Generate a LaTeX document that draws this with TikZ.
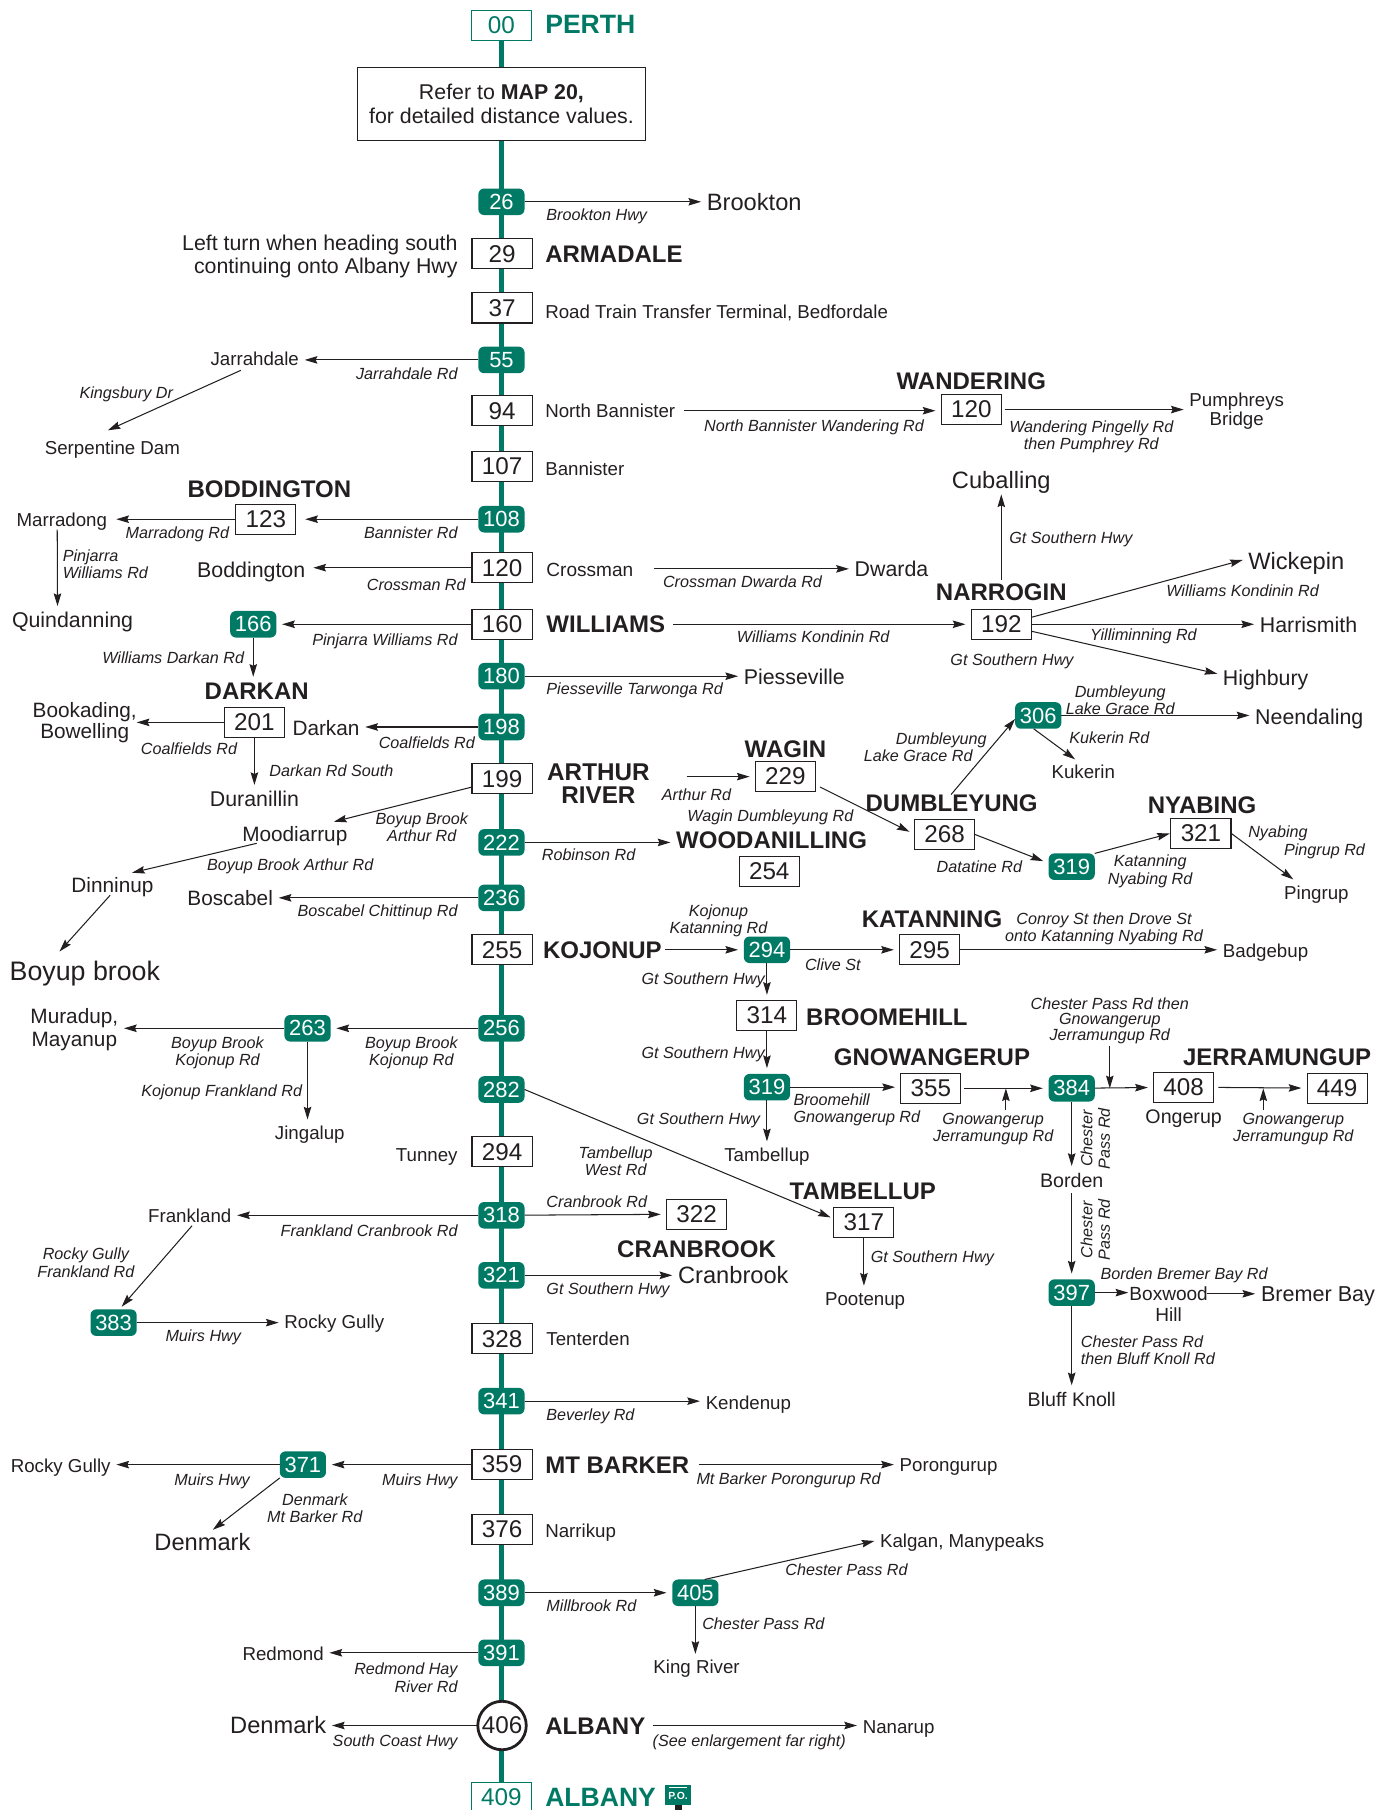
\documentclass[tikz,border=0pt]{standalone}
\usepackage{fontspec}
\setmainfont{Liberation Sans}
\usetikzlibrary{arrows.meta,backgrounds,calc}
\definecolor{rgreen}{HTML}{007A65}
\definecolor{ink}{HTML}{231F20}
\newcommand\fz[1]{\fontsize{#1}{#1}\selectfont}
\tikzset{
 x=1pt,y=-1pt,
 every node/.style={text=ink,inner sep=0pt,outer sep=0pt},
 arr/.style={draw=ink,line width=.9pt,-{Stealth[length=11pt,width=6.5pt,inset=1.5pt]},shorten >=5pt},
 kmbox/.style={draw=ink,fill=white,line width=.9pt,minimum width=52pt,minimum height=26pt,font=\fz{21}},
 gbox/.style={kmbox,draw=rgreen,text=rgreen},
 pill/.style={fill=rgreen,rounded corners=5pt,minimum width=40pt,minimum height=23pt,text=white,font=\fz{19}},
 town/.style={font=\fz{20.8}\bfseries,text height=15pt,text depth=0pt},
 gtown/.style={town,text=rgreen,font=\fz{23}\bfseries},
 pl/.style={font=\fz{16.2},text height=12pt,text depth=0pt},
 plm/.style={font=\fz{18.5},text height=13.5pt,text depth=0pt},
 plb/.style={font=\fz{20.5},text height=15pt,text depth=0pt},
 road/.style={font=\fz{14}\itshape,text height=10pt,text depth=0pt},
 rl/.style={font=\fontsize{14}{15}\selectfont\itshape,align=center,yshift=-1.5pt},
 rr/.style={rl,align=right},
 rg/.style={rl,align=left},
 ml/.style={font=\fontsize{18.5}{20.5}\selectfont,align=center,yshift=-1.5pt},
}
\begin{document}
\begin{tikzpicture}
\clip (0,0) rectangle (1203,1568);
\useasboundingbox (0,0) rectangle (1203,1568);
\begin{scope}[xshift=.4pt,yshift=.2pt]
% spine nodes
\node[gbox] (k00) at (434,22) {00};
\node[gtown,anchor=west] (perth) at (472,22) {PERTH};
\node[draw=ink,fill=white,line width=.9pt,minimum width=250pt,minimum height=63pt,font=\fontsize{18.5}{21}\selectfont,align=center] (refbox) at (434,90) {Refer to \textbf{MAP 20,}\\for detailed distance values.};
\node[pill] (k26) at (434,175) {26};
\node[kmbox] (k29) at (434.5,220) {29};
\node[kmbox] (k37) at (434.5,267) {37};
\node[pill] (k55) at (434,312) {55};
\node[kmbox] (k94) at (434.5,356) {94};
\node[kmbox] (k107) at (434.5,404) {107};
\node[pill] (k108) at (434,450) {108};
\node[kmbox] (k120) at (434.5,492) {120};
\node[kmbox] (k160) at (434.5,541) {160};
\node[pill] (k180) at (434,586) {180};
\node[pill] (k198) at (434,630) {198};
\node[kmbox] (k199) at (434.5,675) {199};
\node[pill] (k222) at (434,730) {222};
\node[pill] (k236) at (434,778) {236};
\node[kmbox] (k255) at (434.5,823) {255};
\node[pill] (k256) at (434,891) {256};
\node[pill] (k282) at (434,944) {282};
\node[kmbox] (k294) at (434.5,998) {294};
\node[pill] (k318) at (434,1053) {318};
\node[pill] (k321) at (434,1105) {321};
\node[kmbox] (k328) at (434.5,1160) {328};
\node[pill] (k341) at (434,1214) {341};
\node[kmbox] (k359) at (434.5,1269) {359};
\node[kmbox] (k376) at (434.5,1325) {376};
\node[pill] (k389) at (434,1380) {389};
\node[pill] (k391) at (434,1432) {391};
\node[circle,draw=ink,fill=white,line width=2.4pt,minimum size=42pt,font=\fz{21}] (k406) at (434.5,1495) {406};
\node[gbox] (k409) at (434,1557) {409};
\node[gtown,anchor=west] (alb2) at (472,1558) {ALBANY};
\begin{scope}[on background layer]
\draw[rgreen,line width=5pt] (k00.south) -- (k409.north);
\end{scope}
% P.O. sign
\fill[ink] (584,1562) rectangle (590,1568);
\node[fill=rgreen,minimum width=22pt,minimum height=17pt,text=white,font=\fz{9}\bfseries,text depth=0pt,anchor=center] (po) at (587,1555) {\raisebox{-2pt}{P.O.}};
\draw[white,line width=.9pt] ($(po.north west)+(3,2.5)$) -- ($(po.north east)+(-3,2.5)$);
% right of spine texts
\node[plb,anchor=west] (brookton) at (612,175) {Brookton};
\node[road,anchor=west] at (473,186) {Brookton Hwy};
\node[town,anchor=west] (armadale) at (472,220) {ARMADALE};
\node[ml,align=right,anchor=east] at (396,221) {Left turn when heading south\\continuing onto Albany Hwy};
\node[pl,anchor=west] at (472,270) {Road Train Transfer Terminal, Bedfordale};
\node[pl,anchor=west] (jarrahdale) at (182,311) {Jarrahdale};
\node[road,anchor=east] at (396,324) {Jarrahdale Rd};
\node[road] at (109,340) {Kingsbury Dr};
\node[pl] (serp) at (97,388) {Serpentine Dam};
\node[pl,anchor=west] (nban) at (472,356) {North Bannister};
\node[road,anchor=east] at (800,369) {North Bannister Wandering Rd};
\node[town] at (841,330) {WANDERING};
\node[kmbox] (k120w) at (841,355) {120};
\node[rl] at (945,377) {Wandering Pingelly Rd\\then Pumphrey Rd};
\node[font=\fontsize{16.2}{16.5}\selectfont,align=center] (pump) at (1071,356) {Pumphreys\\Bridge};
\node[pl,anchor=west] at (472,406) {Bannister};
\node[town] at (233,424) {BODDINGTON};
\node[kmbox] (k123) at (230,450) {123};
\node[road,anchor=east] at (396,462) {Bannister Rd};
\node[pl,anchor=west] (marr) at (14,450) {Marradong};
\node[road,anchor=east] at (198,462) {Marradong Rd};
\node[rg,anchor=west] at (54,487.5) {Pinjarra\\Williams Rd};
\node[plm,anchor=west] (quin) at (10,537) {Quindanning};
\node[plm,font=\fz{16.5},anchor=west] (cross) at (473,493) {Crossman};
\node[plm,anchor=east] (bodd) at (264,494) {Boddington};
\node[road,anchor=east] at (403,507) {Crossman Rd};
\node[plm,anchor=west] (dwarda) at (740,493) {Dwarda};
\node[road,anchor=west] at (574,504) {Crossman Dwarda Rd};
\node[town,anchor=west] (williams) at (473,541) {WILLIAMS};
\node[pill] (p166) at (219,541) {166};
\node[road,anchor=east] at (396,554) {Pinjarra Williams Rd};
\node[road,anchor=west] at (638,552) {Williams Kondinin Rd};
\node[road,anchor=east] at (211,570) {Williams Darkan Rd};
\node[town] (darkanT) at (222,599) {DARKAN};
\node[plm,anchor=west] (piess) at (644,586) {Piesseville};
\node[road,anchor=west] at (473,597) {Piesseville Tarwonga Rd};
\node[plm,font=\fz{18},anchor=west] (darkan) at (253,631) {Darkan};
\node[road,anchor=east] at (411,644) {Coalfields Rd};
\node[kmbox] (k201) at (220,626) {201};
\node[font=\fontsize{18}{16}\selectfont,align=center] (book) at (73,626) {Bookading,\\Bowelling};
\node[road,anchor=east] at (205,649) {Coalfields Rd};
\node[road,anchor=west] at (233,668) {Darkan Rd South};
\node[plm] (duran) at (220,692) {Duranillin};
% Arthur River etc
\node[font=\fontsize{21}{20}\selectfont\bfseries,align=center] (arthur) at (518,679) {ARTHUR\\RIVER};
\node[rl] at (365,715.5) {Boyup Brook\\Arthur Rd};
\node[plm,font=\fz{18}] (moodi) at (255,722) {Moodiarrup};
\node[town] at (680,649) {WAGIN};
\node[kmbox] (k229) at (680,673) {229};
\node[road,anchor=west] at (573,689) {Arthur Rd};
\node[road] at (667,707) {Wagin Dumbleyung Rd};
\node[town] (dumbT) at (824,696) {DUMBLEYUNG};
\node[kmbox] (k268) at (818,723) {268};
\node[road] at (815,640) {Dumbleyung};
\node[road] at (795,655) {Lake Grace Rd};
\node[pill] (p306) at (899,620) {306};
\node[plm,anchor=west] (need) at (1087,621) {Neendaling};
\node[rl] at (970,605.5) {Dumbleyung\\Lake Grace Rd};
\node[road,anchor=west] at (926,639) {Kukerin Rd};
\node[pl] (kuk) at (938,669) {Kukerin};
\node[road,anchor=east] at (885,751) {Datatine Rd};
\node[pill] (p319b) at (928,751) {319};
\node[town] at (1041,697) {NYABING};
\node[kmbox] (k321b) at (1040,722) {321};
\node[rl] at (996,753.5) {Katanning\\Nyabing Rd};
\node[road,anchor=west] at (1081,721) {Nyabing};
\node[road,anchor=west] at (1112,736) {Pingrup Rd};
\node[pl] (ping) at (1140,773) {Pingrup};
\node[town,anchor=center] (wood) at (668,728) {WOODANILLING};
\node[road,anchor=west] at (469,741) {Robinson Rd};
\node[kmbox] (k254) at (666,755) {254};
\node[road,anchor=west] at (179,749) {Boyup Brook Arthur Rd};
\node[plm,font=\fz{18}] (dinn) at (97,767) {Dinninup};
\node[font=\fz{23.2},anchor=west,text height=17pt,text depth=0pt] (boyup) at (8,841) {Boyup brook};
\node[plm,font=\fz{18}] (bosc) at (199,778) {Boscabel};
\node[road,anchor=east] at (396,789) {Boscabel Chittinup Rd};
\node[town,anchor=west] (kojonup) at (470,823) {KOJONUP};
\node[rl] at (622,796.5) {Kojonup\\Katanning Rd};
\node[pill] (p294) at (664,823) {294};
\node[road,anchor=west] at (697,836) {Clive St};
\node[town] at (807,796) {KATANNING};
\node[kmbox] (k295) at (805,823) {295};
\node[rl] at (956,803.5) {Conroy St then Drove St\\onto Katanning Nyabing Rd};
\node[pl,anchor=west] (badge) at (1059,824) {Badgebup};
\node[road,anchor=east] at (662,848) {Gt Southern Hwy};
\node[kmbox] (k314) at (664,880) {314};
\node[town,anchor=west] at (698,881) {BROOMEHILL};
\node[road,anchor=east] at (662,912) {Gt Southern Hwy};
\node[pill] (p319a) at (664,942) {319};
\node[rg,anchor=west] at (687,960) {Broomehill\\Gnowangerup Rd};
\node[town] at (807,916) {GNOWANGERUP};
\node[kmbox] (k355) at (806,943) {355};
\node[pill] (p384) at (928,943) {384};
\node[rl] (gj1) at (860,976.5) {Gnowangerup\\Jerramungup Rd};
\node[font=\fontsize{14}{13.5}\selectfont\itshape,align=center,yshift=-1.5pt] (cpg) at (961,883) {Chester Pass Rd then\\Gnowangerup\\Jerramungup Rd};
\node[kmbox] (k408) at (1025,942) {408};
\node[plm,font=\fz{17}] at (1025,967) {Ongerup};
\node[kmbox] (k449) at (1158,943) {449};
\node[town] at (1106,916) {JERRAMUNGUP};
\node[rl] (gj2) at (1120,976.5) {Gnowangerup\\Jerramungup Rd};
\node[rl,rotate=90,yshift=1.5pt] at (950,985) {Chester\\Pass Rd};
\node[plm,font=\fz{17}] (borden) at (928,1022) {Borden};
\node[rl,rotate=90,yshift=1.5pt] at (950,1064) {Chester\\Pass Rd};
\node[pill] (p397) at (928,1120) {397};
\node[font=\fontsize{16.5}{18}\selectfont,align=center] (boxw) at (1012,1130) {Boxwood\\Hill};
\coordinate (boxE) at (1042,1121);
\coordinate (boxW) at (982,1121);
\node[font=\fz{18.7},anchor=west,text height=14pt,text depth=0pt] (bremer) at (1092,1121) {Bremer Bay};
\node[road,anchor=west] at (953,1104) {Borden Bremer Bay Rd};
\node[rg,anchor=west] at (936,1168.5) {Chester Pass Rd\\then Bluff Knoll Rd};
\node[plm,font=\fz{17}] (bluff) at (928,1212) {Bluff Knoll};
% Narrogin
\node[town] (narrT) at (867,513) {NARROGIN};
\node[kmbox] (k192) at (867,541) {192};
\node[plb] (cuball) at (867,416) {Cuballing};
\node[road,anchor=west] at (874,466) {Gt Southern Hwy};
\node[plb,anchor=west] (wick) at (1081,486) {Wickepin};
\node[road,anchor=west] at (1010,512) {Williams Kondinin Rd};
\node[plm,anchor=west] (harri) at (1091,541) {Harrismith};
\node[road,anchor=west] at (944,550) {Yilliminning Rd};
\node[plm,anchor=west] (high) at (1059,587) {Highbury};
\node[road,anchor=west] at (823,572) {Gt Southern Hwy};
% lower left
\node[rl] at (356,911) {Boyup Brook\\Kojonup Rd};
\node[pill] (p263) at (266,891) {263};
\node[font=\fontsize{18}{20}\selectfont,align=center] (murad) at (64,892) {Muradup,\\Mayanup};
\node[rl] at (188,911) {Boyup Brook\\Kojonup Rd};
\node[road,anchor=west] at (122,945) {Kojonup Frankland Rd};
\node[pl] (jing) at (268,981) {Jingalup};
\node[rl] at (533,1004.5) {Tambellup\\West Rd};
\node[road,anchor=east] at (658,969) {Gt Southern Hwy};
\node[pl] (tamb) at (664,1000) {Tambellup};
\node[town] at (747,1032) {TAMBELLUP};
\node[kmbox] (k317) at (748,1059) {317};
\node[pl,anchor=east] at (396,1000) {Tunney};
\node[pl] (frank) at (164,1053) {Frankland};
\node[road,anchor=east] at (396,1066) {Frankland Cranbrook Rd};
\node[kmbox] (k322) at (603,1052) {322};
\node[road,anchor=west] at (473,1041) {Cranbrook Rd};
\node[town] at (603,1082) {CRANBROOK};
\node[plb,anchor=west] (cranb) at (587,1105) {Cranbrook};
\node[road,anchor=west] at (473,1117) {Gt Southern Hwy};
\node[road,anchor=west] at (754,1089) {Gt Southern Hwy};
\node[pl] (poot) at (749,1125) {Pootenup};
\node[rl] at (74,1092.5) {Rocky Gully\\Frankland Rd};
\node[pill] (p383) at (98,1146) {383};
\node[pl,anchor=west] (rocky) at (246,1145) {Rocky Gully};
\node[road,anchor=west] at (143,1157) {Muirs Hwy};
\node[pl,anchor=west] at (473,1160) {Tenterden};
\node[pl,anchor=west] (kend) at (611,1215) {Kendenup};
\node[road,anchor=west] at (473,1226) {Beverley Rd};
\node[town,anchor=west] (mtb) at (472,1269) {MT BARKER};
\node[pill] (p371) at (262,1269) {371};
\node[road,anchor=east] at (396,1282) {Muirs Hwy};
\node[road,anchor=east] at (216,1282) {Muirs Hwy};
\node[pl,anchor=west] (rocky2) at (9,1270) {Rocky Gully};
\node[plb] (denm1) at (175,1336) {Denmark};
\node[road,anchor=west] at (244,1299) {Denmark};
\node[road,anchor=west] at (231,1314) {Mt Barker Rd};
\node[pl,anchor=west] (poro) at (779,1269) {Porongurup};
\node[road,anchor=west] at (603,1281) {Mt Barker Porongurup Rd};
\node[pl,anchor=west] at (472,1326) {Narrikup};
\node[pill] (p405) at (602,1380) {405};
\node[road,anchor=west] at (473,1391) {Millbrook Rd};
\node[pl,anchor=west] (kalg) at (762,1335) {Kalgan, Manypeaks};
\node[road,anchor=west] at (680,1360) {Chester Pass Rd};
\node[road,anchor=west] at (608,1407) {Chester Pass Rd};
\node[pl] (king) at (603,1444) {King River};
\node[pl,anchor=east] (redm) at (280,1433) {Redmond};
\node[rr,anchor=east] at (396,1452) {Redmond Hay\\River Rd};
\node[town,anchor=west] (alb) at (472,1495) {ALBANY};
\node[plb,anchor=west] (denm2) at (199,1494) {Denmark};
\node[road,anchor=east] at (396,1508) {South Coast Hwy};
\node[road,anchor=west] at (565,1508) {(See enlargement far right)};
\node[pl,anchor=west] (nana) at (747,1496) {Nanarup};
% connectors
\draw[arr] (k26) -- (k26 -| brookton.west);
\draw[arr] (k55) -- (k55 -| jarrahdale.east);
\draw[arr,shorten >=0pt] ([shift={(-12,4)}]jarrahdale.south) -- ([shift={(-4,-9)}]serp.north);
\draw[arr,shorten <=8pt] (nban.east) -- (nban.east -| k120w.west);
\draw[arr,shorten <=3pt] (k120w) -- (k120w -| pump.west);
\draw[arr,shorten >=8pt] (k108) -- (k108 -| k123.east);
\draw[arr,shorten >=8pt] (k123) -- (k123 -| marr.east);
\draw[arr] ([xshift=-4pt]marr.south) ++(0,3) -- ([xshift=-13pt]quin.north);
\draw[arr,shorten >=7pt] (k120) -- (k120 -| bodd.east);
\draw[arr,shorten <=18pt] (cross.east) -- (cross.east -| dwarda.west);
\draw[arr] (k160) -- (k160 -| p166.east);
\draw[arr,shorten <=7pt] (williams.east) -- (williams.east -| k192.west);
\draw[arr] (p166) -- (p166 |- darkanT.north);
\draw[arr] (k180) -- (k180 -| piess.west);
\draw[arr] (k198) -- (k198 -| darkan.east);
\draw[arr,shorten >=0pt] (k201) -- (k201 -| book.east);
\draw[arr] (k201) -- (k201 |- duran.north);
\draw[arr] ([yshift=-7pt]k199.west) -- ([shift={(29,-2)}]moodi.north);
\draw[arr,shorten <=32pt] (arthur.east |- k229) -- (k229.west);
\draw[arr] ([shift={(4,9)}]k229.east) -- (k268.west);
\draw[arr,shorten >=0pt] ([xshift=-.5pt]dumbT.north) -- ([yshift=-3pt]p306.west);
\draw[arr,shorten <=0pt] (p306) -- (p306 -| need.west);
\draw[arr] ([xshift=-4pt]p306.south) -- ([shift={(-3,-2)}]kuk.north);
\draw[arr] (k268.east) -- ([yshift=3pt]p319b.west);
\draw[arr,shorten >=1pt] (p319b.north east) -- (k321b.west);
\draw[arr] (k321b.east) -- ([shift={(-16,-2)}]ping.north);
\draw[arr] (k222) -- (k222 -| wood.west);
\draw[arr,shorten >=0pt] ([shift={(-33,2)}]moodi.south) -- ([shift={(17,-4)}]dinn.north);
\draw[arr,shorten >=0pt] ([shift={(-2,2)}]dinn.south) -- ([shift={(-22,-8)}]boyup.north);
\draw[arr] (k236) -- (k236 -| bosc.east);
\draw[arr,shorten <=3pt] (kojonup.east) -- (kojonup.east -| p294.west);
\draw[arr] (p294) -- (p294 -| k295.west);
\draw[arr] (k295) -- (k295 -| badge.west);
\draw[arr] (p294) -- (k314);
\draw[arr] (k314) -- (p319a);
\draw[arr] (p319a) -- (p319a |- tamb.north);
\draw[arr] (p319a) -- (p319a -| k355.west);
\draw[arr,shorten <=3pt] (k355) -- (k355 -| p384.west);
\draw[arr,shorten >=0pt] (gj1.north -| 871,0) ++(0,-2) -- (871,943);
\draw[arr,shorten >=0pt,shorten <=2pt] (cpg.south) -- (cpg.south |- p384);
\draw[arr] (p384) -- (k408);
\draw[arr,shorten <=4pt] (k408) -- (k449);
\draw[arr,shorten >=0pt] (gj2.north -| 1094,0) ++(0,-2) -- (1094,943);
\draw[arr] (p384) -- (p384 |- borden.north);
\draw[arr] ([yshift=-5pt]borden.south) -- (p397);
\draw[arr] (p397) -- (p397 -| boxW);
\draw[arr,shorten <=3pt] (boxE) -- (boxE -| bremer.west);
\draw[arr] (p397) -- (p397 |- bluff.north);
\draw[arr] (narrT.north) ++(0,-3) -- (cuball.south);
\draw[arr] ([yshift=6pt]k192.east) -- ([yshift=2pt]wick.west);
\draw[arr] (k192) -- (k192 -| harri.west);
\draw[arr] ([yshift=-6pt]k192.east) -- ([yshift=2pt]high.west);
\draw[arr] (k256) -- (p263);
\draw[arr] (p263) -- (p263 -| murad.east);
\draw[arr] (p263) -- (p263 |- jing.north);
\draw[arr,shorten >=3pt] (k282.east) -- ([yshift=3pt]k317.west);
\draw[arr] (k318) -- (k318 -| frank.east);
\draw[arr] (k318) -- (k322);
\draw[arr] (k321) -- (k321 -| cranb.west);
\draw[arr] (k317) -- (k317 |- poot.north);
\draw[arr,shorten >=3pt] ([shift={(2,3)}]frank.south) -- ([xshift=5pt]p383.north);
\draw[arr] (p383) -- (p383 -| rocky.west);
\draw[arr] (k341) -- (k341 -| kend.west);
\draw[arr] (k359) -- (p371);
\draw[arr] (p371) -- (p371 -| rocky2.east);
\draw[arr] (p371.south west) -- ([xshift=5pt]denm1.north);
\draw[arr,shorten <=8pt] (mtb.east) -- (mtb.east -| poro.west);
\draw[arr] (k389) -- (p405);
\draw[arr] ([xshift=8pt]p405.north) -- ([yshift=1pt]kalg.west);
\draw[arr] (p405) -- (p405 |- king.north);
\draw[arr] (k391) -- (k391 -| redm.east);
\draw[arr] (k406) -- (k406 -| denm2.east);
\draw[arr,shorten <=7pt] (alb.east) -- (alb.east -| nana.west);
\end{scope}
\end{tikzpicture}
\end{document}
